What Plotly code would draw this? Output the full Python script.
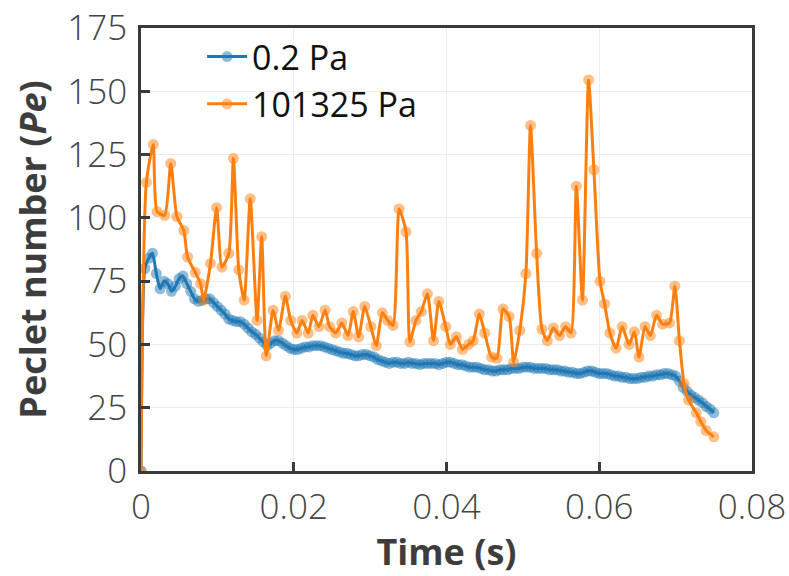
import plotly.graph_objects as go

# ---- data ----
dt_low = 0.0005
pe_low = [0, 80, 84, 86, 78, 72, 75, 74, 71, 73,
          76, 77, 74, 71, 68, 67, 67.5, 68, 68, 66.5,
          65, 63.5, 62, 60, 59.5, 59, 59, 58, 56.5, 55,
          54, 52.5, 51, 49.5, 50.5, 51.5, 51.5, 50.5, 49.5, 48.5,
          48, 48, 48.5, 49, 49, 49.5, 49.5, 49.5, 49, 48.5,
          48, 47.5, 47, 46.5, 46.5, 46, 45.5, 45.5, 46, 46,
          45.5, 45, 44, 43.5, 43, 42.5, 43, 43, 42.5, 42.5,
          43, 42.5, 42.5, 42, 42.5, 42.5, 42.5, 42.5, 42, 42.5,
          43, 43, 42.5, 42, 42, 41.5, 41, 41, 41, 40.5,
          40, 40, 39.5, 39.5, 40, 40, 40, 40.5, 40.5, 40.5,
          41, 41, 41, 40.5, 40.5, 40.5, 40.5, 40, 40, 40,
          39.5, 39.5, 39, 39, 38.5, 38.5, 39, 39.5, 39.5, 39,
          38.5, 38.5, 38.5, 38, 37.5, 37.5, 37, 37, 36.5, 36.5,
          36.5, 37, 37, 37.5, 37.5, 38, 38, 38.5, 38.5, 38,
          37.5, 35.5, 33, 31.5, 30, 29, 28, 27, 25.5, 24.5,
          23]
t_low = [round(i * dt_low, 5) for i in range(len(pe_low))]

t_atm = [0, 0.0007, 0.0016, 0.0021, 0.0031, 0.0039, 0.0047, 0.0056, 0.0061, 0.0071,
         0.0078, 0.0082, 0.0091, 0.0099, 0.0106, 0.0115, 0.0121, 0.0128, 0.0135, 0.0143,
         0.0152, 0.0158, 0.0164, 0.0173, 0.018, 0.0189, 0.0196, 0.0204, 0.0211, 0.0219,
         0.0225, 0.0233, 0.0241, 0.0247, 0.0255, 0.0263, 0.0271, 0.0278, 0.0285, 0.0293,
         0.0301, 0.0308, 0.0316, 0.0323, 0.033, 0.0338, 0.0347, 0.0352, 0.036, 0.0367,
         0.0375, 0.0383, 0.039, 0.0399, 0.0405, 0.0413, 0.0421, 0.0429, 0.0435, 0.0443,
         0.045, 0.0459, 0.0466, 0.0474, 0.0482, 0.0488, 0.0496, 0.0504, 0.051, 0.0518,
         0.0525, 0.0532, 0.054, 0.0548, 0.0556, 0.0563, 0.057, 0.0578, 0.0586, 0.0593,
         0.0601, 0.0607, 0.0614, 0.0622, 0.063, 0.0639, 0.0646, 0.0652, 0.066, 0.0667,
         0.0675, 0.0683, 0.0692, 0.0699, 0.0705, 0.0711, 0.0717, 0.0727, 0.0733, 0.074,
         0.075]
pe_atm = [0, 114, 129, 102.5, 101, 121.5, 100.5, 95, 84.5, 78.5,
          74, 67.5, 82, 104, 80.5, 86, 123.5, 79.5, 67.5, 107.5,
          59.5, 92.5, 45.5, 63.5, 55.5, 69, 59.5, 54.5, 59.5, 54.5,
          61.5, 57, 63.5, 57, 54.5, 58.5, 53.5, 63, 53, 65,
          57, 49.5, 62.5, 59.5, 57.5, 103.5, 94.5, 51, 59.5, 63,
          70, 51.5, 67, 57, 50, 53, 48, 50, 51.5, 62,
          54.5, 45, 44.5, 64, 61, 43, 55.5, 78, 136.5, 86,
          56, 51.5, 56.5, 53.5, 57, 54.5, 112.5, 67.5, 154.5, 119,
          75, 66, 54.5, 48.5, 57, 50, 55, 45, 57, 53.5,
          61.5, 58, 58.5, 73, 51.5, 34.5, 28, 23, 19.5, 16,
          13.5]

series_names = ["0.2 Pa", "101325 Pa"]
series_colors = ["#1f77b4", "#ff7f0e"]

x_ticks = [0, 0.02, 0.04, 0.06, 0.08]
x_ticktext = ["0", "0.02", "0.04", "0.06", "0.08"]
y_ticks = [0, 25, 50, 75, 100, 125, 150, 175]

fig = go.Figure()
for t, v, name, col in [(t_low, pe_low, series_names[0], series_colors[0]),
                        (t_atm, pe_atm, series_names[1], series_colors[1])]:
    fig.add_trace(go.Scatter(
        x=t, y=v, name=name, mode="lines+markers",
        line=dict(color=col, width=3, shape="spline", smoothing=0.6),
        marker=dict(color=col, size=11, opacity=0.5),
    ))

axis_common = dict(
    showline=True, linecolor="#3a3a3a", linewidth=2.5, mirror=True,
    ticks="inside", ticklen=9, tickwidth=2.5, tickcolor="#3a3a3a",
    showgrid=True, gridcolor="#ececec", gridwidth=1.2,
    zeroline=False, automargin=False,
    tickfont=dict(family="Open Sans", size=35, color="#444444", weight=300),
)

title_font = dict(family="Open Sans", size=36, color="#3d3d3d")

fig.update_xaxes(
    range=[0, 0.08], tickvals=x_ticks, ticktext=x_ticktext,
    title=dict(text="<b>Time (s)</b>", font=title_font, standoff=6),
    ticklabelstandoff=3,
    **axis_common,
)
fig.update_yaxes(
    range=[0, 175], tickvals=y_ticks,
    title=dict(text="<b>Peclet number (<i>Pe</i>)</b>", font=title_font, standoff=10),
    ticklabelstandoff=4,
    **axis_common,
)

# white patch behind the legend (above grid, below traces)
fig.add_shape(type="rect", xref="paper", yref="paper",
              x0=0.085, x1=0.475, y0=0.78, y1=0.995,
              fillcolor="white", line=dict(width=0), layer="between")

fig.update_layout(
    width=789, height=576,
    margin=dict(l=141, r=37, t=28, b=105),
    paper_bgcolor="white", plot_bgcolor="white",
    showlegend=True,
    legend=dict(
        x=0.1, y=1.0, xanchor="left", yanchor="top",
        bgcolor="rgba(0,0,0,0)", borderwidth=0,
        font=dict(family="Open Sans", size=34, color="#111111"),
        itemwidth=40, tracegroupgap=0,
    ),
)

fig.write_html("out.html")
